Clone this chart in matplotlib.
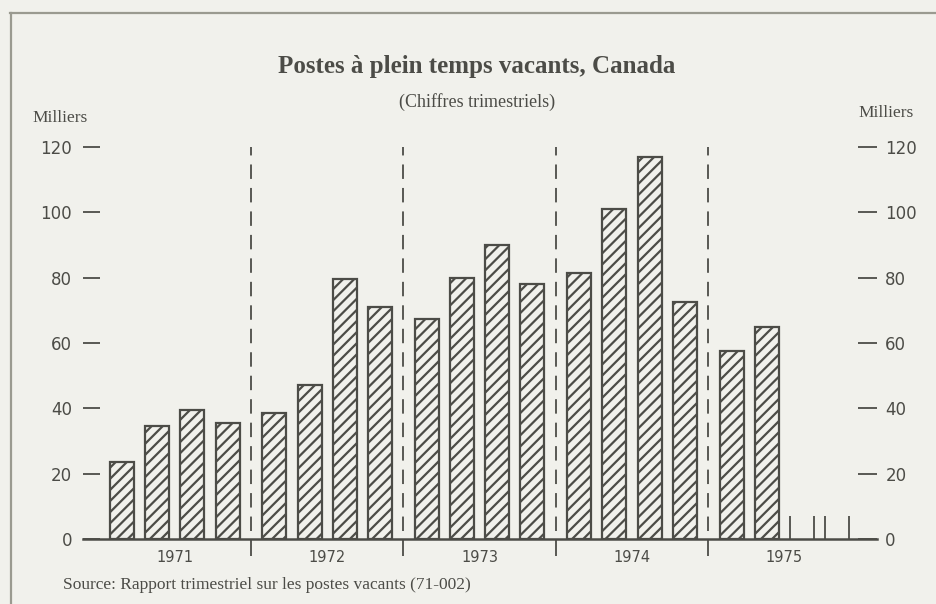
import numpy as np
import matplotlib.pyplot as plt
from matplotlib.lines import Line2D

# données trimestrielles (milliers de postes vacants)
years = ['1971', '1972', '1973', '1974', '1975']
vacancies = [
    [23.5, 34.5, 39.5, 35.5],
    [38.5, 47.0, 79.5, 71.0],
    [67.5, 80.0, 90.0, 78.0],
    [81.5, 101.0, 117.0, 72.5],
    [57.5, 65.0],
]
# petits traits des trimestres non publiés de 1975
stub_heights = [7, 7]

yticks = [0, 20, 40, 60, 80, 100, 120]

bg = '#f1f1ec'
ink = '#4c4c47'
plt.rcParams['hatch.color'] = ink
plt.rcParams['hatch.linewidth'] = 1.6

year_span = 4.33
bar_w = 0.68

fig = plt.figure(figsize=(9.36, 6.04), dpi=100, facecolor=bg)
ax = fig.add_axes([83/936, 1 - 539/604, 794/936, 392/604])
ax.set_facecolor(bg)

for j, vals in enumerate(vacancies):
    xs = j * year_span + np.arange(len(vals))
    ax.bar(xs, vals, width=bar_w, facecolor=bg, edgecolor=ink,
           linewidth=1.6, hatch='///', zorder=3)

# traits pour les trimestres manquants
last = len(vacancies) - 1
for k, h in enumerate(stub_heights):
    q = len(vacancies[last]) + k
    xc = last * year_span + q
    ax.vlines([xc - bar_w / 2, xc + bar_w / 2], 0, h, color=ink, lw=1.3)

# séparateurs d'années
seps = [j * year_span + 3 + (year_span - 3) / 2 for j in range(len(years) - 1)]
for s in seps:
    ax.axvline(s, ymin=0.02, ymax=1.0, color=ink, lw=1.3,
               dashes=(8, 5), zorder=2)

ax.set_xlim(-1.108, 21.45)
ax.set_ylim(0, 120)

for side in ['top', 'left', 'right']:
    ax.spines[side].set_visible(False)
ax.spines['bottom'].set_color(ink)
ax.spines['bottom'].set_linewidth(1.8)

centers = [j * year_span + 1.5 for j in range(len(years))]
ax.set_xticks(centers)
ax.set_xticklabels(years, fontsize=10.5, color=ink, family='DejaVu Sans')
ax.tick_params(axis='x', which='major', length=0, pad=8)
ax.set_xticks(seps, minor=True)
ax.tick_params(axis='x', which='minor', length=12, width=1.3,
               color=ink, direction='out')

ax.set_yticks(yticks)
ax.set_yticklabels([str(v) for v in yticks], fontsize=12, color=ink)
ax.tick_params(axis='y', which='major', direction='in', length=12.5,
               width=1.3, color=ink, pad=8, left=True, right=False,
               labelleft=True, labelright=False)

ax2 = ax.twinx()
ax2.set_ylim(ax.get_ylim())
for side in ['top', 'left', 'right', 'bottom']:
    ax2.spines[side].set_visible(False)
ax2.set_yticks(yticks)
ax2.set_yticklabels([str(v) for v in yticks], fontsize=12, color=ink)
ax2.tick_params(axis='y', direction='in', length=14, width=1.3,
                color=ink, pad=6)

serif = 'Liberation Serif'
fig.text(477/936, 1 - 67/604, 'Postes à plein temps vacants, Canada',
         ha='center', va='center', fontsize=18, fontweight='bold',
         family=serif, color=ink)
fig.text(477/936, 1 - 102/604, '(Chiffres trimestriels)', ha='center',
         va='center', fontsize=13, family=serif, color=ink)
fig.text(32/936, 1 - 118/604, 'Milliers', ha='left', va='center',
         fontsize=12.5, family=serif, color=ink)
fig.text(914/936, 1 - 113/604, 'Milliers', ha='right', va='center',
         fontsize=12.5, family=serif, color=ink)
fig.text(63/936, 1 - 585/604,
         'Source: Rapport trimestriel sur les postes vacants (71-002)',
         ha='left', va='center', fontsize=12.5, family=serif, color=ink)

# cadre
fig.add_artist(Line2D([10/936, 1], [1 - 13/604, 1 - 13/604],
                      transform=fig.transFigure, color='#9a9a90', lw=1.6))
fig.add_artist(Line2D([11/936, 11/936], [0, 1 - 13/604],
                      transform=fig.transFigure, color='#9a9a90', lw=1.6))

fig.savefig('out.png', dpi=100, facecolor=bg)
